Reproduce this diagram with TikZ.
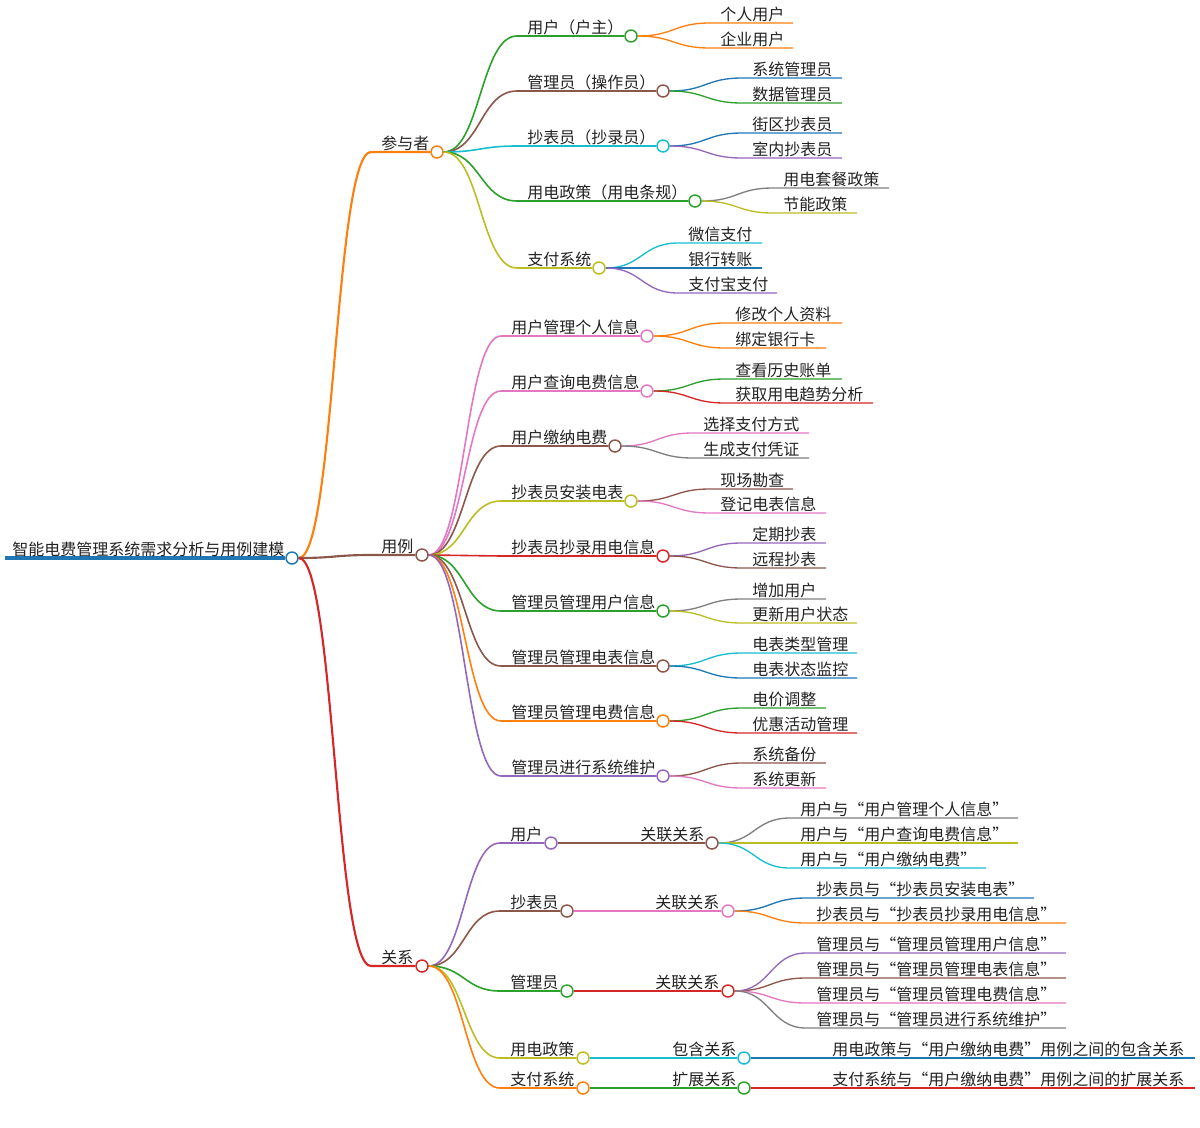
\documentclass[tikz,border=0pt]{standalone}
\usepackage{fontspec}
\setmainfont{Noto Sans CJK SC}
\usetikzlibrary{calc}
\pgfdeclarelayer{bg}
\pgfsetlayers{bg,main}
\definecolor{mblue}{HTML}{1F77B4}
\definecolor{morange}{HTML}{FF7F0E}
\definecolor{mgreen}{HTML}{2CA02C}
\definecolor{mred}{HTML}{D62728}
\definecolor{mpurple}{HTML}{9467BD}
\definecolor{mbrown}{HTML}{8C564B}
\definecolor{mpink}{HTML}{E377C2}
\definecolor{mgray}{HTML}{7F7F7F}
\definecolor{molive}{HTML}{BCBD22}
\definecolor{mcyan}{HTML}{17BECF}
\definecolor{mtext}{HTML}{222222}
\tikzset{
  lbl/.style={anchor=base west,inner sep=0pt,text=mtext,font=\fontsize{12pt}{14pt}\selectfont},
  dot/.style={circle,fill=white,minimum size=9pt,inner sep=0pt,line width=1.1pt},
}
% #1 name #2 parent #3 colour #4 line width #5 text x #6 y #7 end x #8 text #9 circle flag
\newcommand\mm[9]{%
  \coordinate (#1-s) at (#5-10,#6);
  \node[lbl] (#1-t) at (#5,#6-3) {#8};
  \ifnum#9=1
    \node[dot,draw=#3] (#1) at (#7,#6) {};
  \else
    \coordinate (#1) at (#7,#6);
  \fi
  \begin{pgfonlayer}{bg}
  \draw[#3,line width=#4] let \p1=(#2.east), \p2=(#1-s) in
    (\p1) .. controls ({(\x1+\x2)/2},\y1) and ({(\x1+\x2)/2},\y2) .. (\p2) -- (#1);
  \end{pgfonlayer}
}
\begin{document}
\begin{tikzpicture}[x=0.75pt,y=-0.75pt]
\useasboundingbox (0,0) rectangle (1200,1128);
% root
\node[dot,draw=mblue] (root) at (292,558) {};
\node[lbl] (root-t) at (12,555) {智能电费管理系统需求分析与用例建模};
\coordinate (root-s) at (5,558);
\begin{pgfonlayer}{bg}
\draw[mblue,line width=3pt] (root-s) -- (root);
\end{pgfonlayer}
% level 1
\mm{p}{root}{morange}{1.6pt}{381}{152}{437}{参与者}{1}
\mm{u}{root}{mbrown}{1.6pt}{381}{555}{422}{用例}{1}
\mm{r}{root}{mred}{1.6pt}{381}{966}{422}{关系}{1}
% participants
\mm{p1}{p}{mgreen}{1.2pt}{527}{36}{631}{用户（户主）}{1}
\mm{p2}{p}{mbrown}{1.2pt}{527}{91}{663}{管理员（操作员）}{1}
\mm{p3}{p}{mcyan}{1.2pt}{527}{146}{663}{抄表员（抄录员）}{1}
\mm{p4}{p}{mgreen}{1.2pt}{527}{201}{695}{用电政策（用电条规）}{1}
\mm{p5}{p}{molive}{1.2pt}{527}{268}{599}{支付系统}{1}
\mm{p11}{p1}{morange}{1pt}{720}{23}{793}{个人用户}{0}
\mm{p12}{p1}{morange}{1pt}{720}{48}{793}{企业用户}{0}
\mm{p21}{p2}{mblue}{1pt}{752}{78}{842}{系统管理员}{0}
\mm{p22}{p2}{mgreen}{1pt}{752}{103}{842}{数据管理员}{0}
\mm{p31}{p3}{mblue}{1pt}{752}{133}{842}{街区抄表员}{0}
\mm{p32}{p3}{mpurple}{1pt}{752}{158}{842}{室内抄表员}{0}
\mm{p41}{p4}{mgray}{1pt}{783}{188}{889}{用电套餐政策}{0}
\mm{p42}{p4}{molive}{1pt}{783}{213}{857}{节能政策}{0}
\mm{p51}{p5}{mcyan}{1pt}{688}{243}{762}{微信支付}{0}
\mm{p52}{p5}{mblue}{1pt}{688}{268}{762}{银行转账}{0}
\mm{p53}{p5}{mpurple}{1pt}{688}{293}{777}{支付宝支付}{0}
% use cases
\mm{u1}{u}{mpink}{1.2pt}{511}{336}{647}{用户管理个人信息}{1}
\mm{u2}{u}{mpink}{1.2pt}{511}{391}{647}{用户查询电费信息}{1}
\mm{u3}{u}{mbrown}{1.2pt}{511}{446}{615}{用户缴纳电费}{1}
\mm{u4}{u}{molive}{1.2pt}{511}{501}{631}{抄表员安装电表}{1}
\mm{u5}{u}{mred}{1.2pt}{511}{556}{663}{抄表员抄录用电信息}{1}
\mm{u6}{u}{mgreen}{1.2pt}{511}{611}{663}{管理员管理用户信息}{1}
\mm{u7}{u}{mbrown}{1.2pt}{511}{666}{663}{管理员管理电表信息}{1}
\mm{u8}{u}{morange}{1.2pt}{511}{721}{663}{管理员管理电费信息}{1}
\mm{u9}{u}{mpurple}{1.2pt}{511}{776}{663}{管理员进行系统维护}{1}
\mm{u11}{u1}{morange}{1pt}{735}{323}{842}{修改个人资料}{0}
\mm{u12}{u1}{morange}{1pt}{735}{348}{826}{绑定银行卡}{0}
\mm{u21}{u2}{mgreen}{1pt}{735}{379}{842}{查看历史账单}{0}
\mm{u22}{u2}{mred}{1pt}{735}{403}{873}{获取用电趋势分析}{0}
\mm{u31}{u3}{mpink}{1pt}{703}{433}{809}{选择支付方式}{0}
\mm{u32}{u3}{mgray}{1pt}{703}{458}{809}{生成支付凭证}{0}
\mm{u41}{u4}{mbrown}{1pt}{720}{489}{793}{现场勘查}{0}
\mm{u42}{u4}{mpink}{1pt}{720}{513}{826}{登记电表信息}{0}
\mm{u51}{u5}{mpurple}{1pt}{752}{543}{826}{定期抄表}{0}
\mm{u52}{u5}{mbrown}{1pt}{752}{568}{826}{远程抄表}{0}
\mm{u61}{u6}{mgray}{1pt}{752}{599}{826}{增加用户}{0}
\mm{u62}{u6}{molive}{1pt}{752}{623}{857}{更新用户状态}{0}
\mm{u71}{u7}{mcyan}{1pt}{752}{653}{857}{电表类型管理}{0}
\mm{u72}{u7}{mblue}{1pt}{752}{678}{857}{电表状态监控}{0}
\mm{u81}{u8}{mgreen}{1pt}{752}{708}{826}{电价调整}{0}
\mm{u82}{u8}{mred}{1pt}{752}{733}{857}{优惠活动管理}{0}
\mm{u91}{u9}{mbrown}{1pt}{752}{763}{826}{系统备份}{0}
\mm{u92}{u9}{mpink}{1pt}{752}{788}{826}{系统更新}{0}
% relations
\mm{r1}{r}{mpurple}{1.2pt}{510}{843}{551}{用户}{1}
\mm{r2}{r}{mbrown}{1.2pt}{510}{911}{567}{抄表员}{1}
\mm{r3}{r}{mgreen}{1.2pt}{510}{991}{567}{管理员}{1}
\mm{r4}{r}{molive}{1.2pt}{510}{1058}{583}{用电政策}{1}
\mm{r5}{r}{morange}{1.2pt}{510}{1088}{583}{支付系统}{1}
\mm{r11}{r1}{mbrown}{1pt}{640}{843}{712}{关联关系}{1}
\mm{r21}{r2}{mpink}{1pt}{655}{911}{728}{关联关系}{1}
\mm{r31}{r3}{mred}{1pt}{655}{991}{728}{关联关系}{1}
\mm{r41}{r4}{mcyan}{1pt}{672}{1058}{744}{包含关系}{1}
\mm{r51}{r5}{mgreen}{1pt}{672}{1088}{744}{扩展关系}{1}
\mm{r111}{r11}{mgray}{1pt}{800}{818}{1018}{用户与“用户管理个人信息”}{0}
\mm{r112}{r11}{molive}{1pt}{800}{843}{1018}{用户与“用户查询电费信息”}{0}
\mm{r113}{r11}{mcyan}{1pt}{800}{868}{986}{用户与“用户缴纳电费”}{0}
\mm{r211}{r21}{mblue}{1pt}{816}{898}{1034}{抄表员与“抄表员安装电表”}{0}
\mm{r212}{r21}{morange}{1pt}{816}{923}{1066}{抄表员与“抄表员抄录用电信息”}{0}
\mm{r311}{r31}{mpurple}{1pt}{816}{953}{1066}{管理员与“管理员管理用户信息”}{0}
\mm{r312}{r31}{mbrown}{1pt}{816}{978}{1066}{管理员与“管理员管理电表信息”}{0}
\mm{r313}{r31}{mpink}{1pt}{816}{1003}{1066}{管理员与“管理员管理电费信息”}{0}
\mm{r314}{r31}{mgray}{1pt}{816}{1028}{1066}{管理员与“管理员进行系统维护”}{0}
\mm{r411}{r41}{mblue}{1pt}{832}{1058}{1195}{用电政策与“用户缴纳电费”用例之间的包含关系}{0}
\mm{r511}{r51}{mred}{1pt}{832}{1088}{1195}{支付系统与“用户缴纳电费”用例之间的扩展关系}{0}
\end{tikzpicture}
\end{document}
